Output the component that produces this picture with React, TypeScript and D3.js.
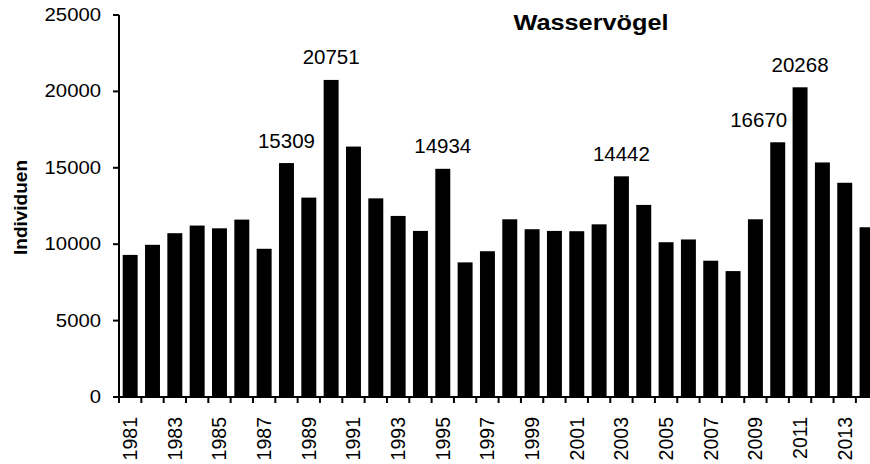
import React from "react";
import * as d3 from "d3";

// Wasservögel, Individuen per year
const years = [
  1981, 1982, 1983, 1984, 1985, 1986, 1987, 1988, 1989, 1990, 1991, 1992,
  1993, 1994, 1995, 1996, 1997, 1998, 1999, 2000, 2001, 2002, 2003, 2004,
  2005, 2006, 2007, 2008, 2009, 2010, 2011, 2012, 2013, 2014,
];
const counts = [
  9300, 9960, 10720, 11220, 11040, 11610, 9700, 15309, 13050, 20751, 16390,
  13000, 11850, 10870, 14934, 8810, 9540, 11630, 10980, 10870, 10850, 11300,
  14442, 12570, 10130, 10310, 8920, 8240, 11630, 16670, 20268, 15350, 14020,
  11110,
];
const labelledYears = [1988, 1990, 1995, 2003, 2010, 2011];
const yTicks = [0, 5000, 10000, 15000, 20000, 25000];

const W = 870;
const H = 464;
const left = 119;
const step = 22.33;
const bottom = 397;
const top = 15;
const font = "'Liberation Sans', Arial, sans-serif";

// small nudge so 16670 does not run into the 2011 bar
const labelShift: Record<number, number> = { 2010: -19 };

const App = () => {
  const x = d3
    .scaleBand<number>()
    .domain(years)
    .range([left, left + step * years.length])
    .paddingInner(0.33)
    .paddingOuter(0.165);
  const y = d3.scaleLinear().domain([0, 25000]).range([bottom, top]);

  const bounds = d3.range(years.length + 1).map((i) => left + i * x.step());

  return (
    <svg
      width={W}
      height={H}
      style={{ position: "absolute", left: 0, top: 0, background: "#fff" }}
      fontFamily={font}
    >
      {/* bars */}
      {years.map((yr, i) => (
        <rect
          key={yr}
          x={x(yr)}
          y={y(counts[i])}
          width={x.bandwidth()}
          height={y(0) - y(counts[i])}
          fill="#000"
        />
      ))}

      {/* value labels */}
      {years.map((yr, i) =>
        labelledYears.includes(yr) ? (
          <text
            key={"l" + yr}
            x={(x(yr) as number) + x.bandwidth() / 2 + (labelShift[yr] || 0)}
            y={y(counts[i]) - 15.5}
            textAnchor="middle"
            fontSize={20.5}
          >
            {counts[i]}
          </text>
        ) : null
      )}

      {/* y axis */}
      <line x1={left} x2={left} y1={y(25000)} y2={y(0)} stroke="#000" strokeWidth={2} />
      {yTicks.map((t) => (
        <g key={t}>
          <line x1={left - 6} x2={left} y1={y(t)} y2={y(t)} stroke="#000" strokeWidth={2} />
          <text
            transform={`translate(101,${y(t)}) scale(1.16,1)`}
            textAnchor="end"
            dominantBaseline="central"
            fontSize={17.5}
          >
            {t}
          </text>
        </g>
      ))}

      {/* x axis */}
      <line x1={left} x2={bounds[bounds.length - 1]} y1={bottom} y2={bottom} stroke="#000" strokeWidth={2} />
      {bounds.map((bx, i) => (
        <line key={"t" + i} x1={bx} x2={bx} y1={bottom} y2={bottom + 6} stroke="#000" strokeWidth={2} />
      ))}
      {years
        .filter((yr) => yr % 2 === 1)
        .map((yr) => (
          <text
            key={"x" + yr}
            transform={`translate(${(x(yr) as number) + x.bandwidth() / 2},417) rotate(-90)`}
            textAnchor="end"
            dominantBaseline="central"
            fontSize={19.5}
          >
            {yr}
          </text>
        ))}

      {/* axis title and chart title */}
      <text
        transform="translate(27,207.5) rotate(-90)"
        textAnchor="middle"
        fontSize={19}
        fontWeight="bold"
      >
        Individuen
      </text>
      <text
        transform="translate(591,30) scale(1.15,1)"
        textAnchor="middle"
        fontSize={22}
        fontWeight="bold"
      >
        Wasservögel
      </text>
    </svg>
  );
};

export default App;
